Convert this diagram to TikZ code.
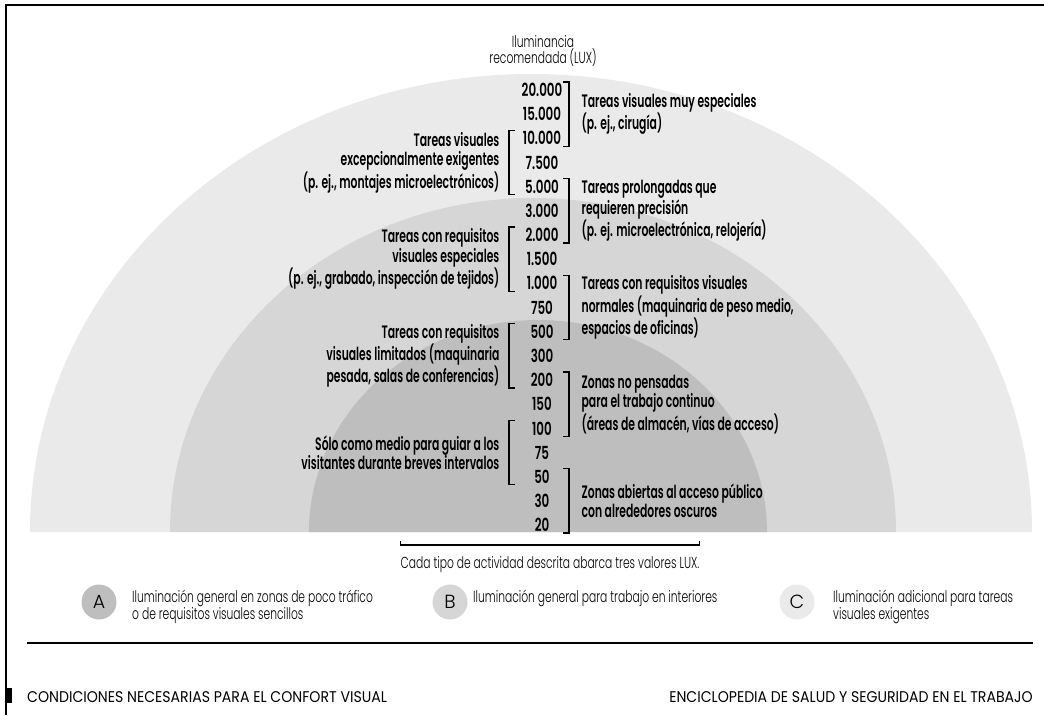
\documentclass[tikz,border=0pt]{standalone}
\usepackage{fontspec}
\setmainfont{Poppins}
\newfontfamily\luxfont{Poppins}[UprightFont=* SemiBold, FakeStretch=0.6]
\newfontfamily\cifrafont{Poppins}[UprightFont=* SemiBold, FakeStretch=0.66]
\newfontfamily\finafont{Poppins}[UprightFont=* Light, FakeStretch=0.67]
\newfontfamily\letrafont{Poppins}[UprightFont=* Light]
\newfontfamily\piefont{Poppins}[FakeStretch=0.91]
\usetikzlibrary{positioning}
\definecolor{grisA}{gray}{0.745}
\definecolor{grisB}{gray}{0.84}
\definecolor{grisC}{gray}{0.918}

\newcommand\corR[3]{\draw[corchete] (bR |- n#1.north) ++(-6,0) -- (bR |- n#1.north) -- node[tarea, right=12pt, align=left] (t#1) {#3} (bR |- n#2.south) -- ++(-6,0);}
\newcommand\corL[3]{\draw[corchete] (bL |- n#1.north) ++(6,0) -- (bL |- n#1.north) -- node[tarea, left=9pt, align=right] (u#1) {#3} (bL |- n#2.south) -- ++(6,0);}

\begin{document}
\begin{tikzpicture}[x=1pt,y=-1pt,
  num/.style={font=\cifrafont\fontsize{18}{19}\selectfont, inner sep=1pt},
  tarea/.style={font=\luxfont\fontsize{18}{19.5}\selectfont, inner sep=0pt},
  fina/.style={font=\finafont\fontsize{16}{16.5}\selectfont, inner sep=0pt},
  marca/.style={circle, minimum size=35pt, inner sep=0pt, font=\letrafont\fontsize{19}{20}\selectfont},
  corchete/.style={line width=1.3pt},
  pie/.style={font=\piefont\fontsize{15.5}{16}\selectfont, inner sep=0pt}]
\useasboundingbox (0,0) rectangle (1044,715);

\fill[grisC] (30,532) arc[start angle=180, end angle=0, x radius=501pt, y radius=458pt] -- cycle;
\fill[grisB] (170,532) arc[start angle=180, end angle=0, x radius=363pt, y radius=334pt] -- cycle;
\fill[grisA] (309,532) arc[start angle=180, end angle=0, x radius=229pt, y radius=212pt] -- cycle;

\draw[line width=2.5pt] (1044,5) -- (6,5) -- (6,715);
\fill (5,688) rectangle (12,703);

\node[fina, align=center] (tit) at (543,51) {Iluminancia\\recomendada (LUX)};

\foreach \v [count=\i] in {20.000,15.000,10.000,7.500,5.000,3.000,2.000,1.500,1.000,750,500,300,200,150,100,75,50,30,20}
  \node[num] (n\i) at (542,{90+(\i-1)*24.17}) {\v};

\coordinate (bR) at (569,0);
\coordinate (bL) at (509,0);

\corR{1}{3}{Tareas visuales muy especiales\\(p. ej., cirugía)}
\corL{3}{5}{Tareas visuales\\excepcionalmente exigentes\\(p. ej., montajes microelectrónicos)}
\corR{5}{7}{Tareas prolongadas que\\requieren precisión\\(p. ej. microelectrónica, relojería)}
\corL{7}{9}{Tareas con requisitos\\visuales especiales\\(p. ej., grabado, inspección de tejidos)}
\corR{9}{11}{Tareas con requisitos visuales\\normales (maquinaria de peso medio,\\espacios de oficinas)}
\corL{11}{13}{Tareas con requisitos\\visuales limitados (maquinaria\\pesada, salas de conferencias)}
\corR{13}{15}{Zonas no pensadas\\para el trabajo continuo\\(áreas de almacén, vías de acceso)}
\corL{15}{17}{Sólo como medio para guiar a los\\visitantes durante breves intervalos}
\corR{17}{19}{Zonas abiertas al acceso público\\con alrededores oscuros}

\node[fina, anchor=north] (cada) at (550,556) {Cada tipo de actividad descrita abarca tres valores LUX.};
\draw[corchete] ([yshift=15pt]cada.north west) -- ([yshift=11pt]cada.north west) -- ([yshift=11pt]cada.north east) -- ([yshift=15pt]cada.north east);

\node[marca, fill=grisA] (cA) at (99,602) {A};
\node[marca, fill=grisB] (cB) at (450,602) {B};
\node[marca, fill=grisC] (cC) at (797,602) {C};
\node[fina, align=left, anchor=north west] (lA) at (132,590) {Iluminación general en zonas de poco tráfico\\o de requisitos visuales sencillos};
\node[fina, align=left, anchor=north west] (lB) at (473,590) {Iluminación general para trabajo en interiores};
\node[fina, align=left, anchor=north west] (lC) at (833,590) {Iluminación adicional para tareas\\visuales exigentes};

\draw[line width=2.5pt] (27,643) -- (1033,643);

\node[pie, anchor=west] (pie1) at (27,697) {CONDICIONES NECESARIAS PARA EL CONFORT VISUAL};
\node[pie, anchor=east] (pie2) at (1033,697) {ENCICLOPEDIA DE SALUD Y SEGURIDAD EN EL TRABAJO};
\end{tikzpicture}
\end{document}
